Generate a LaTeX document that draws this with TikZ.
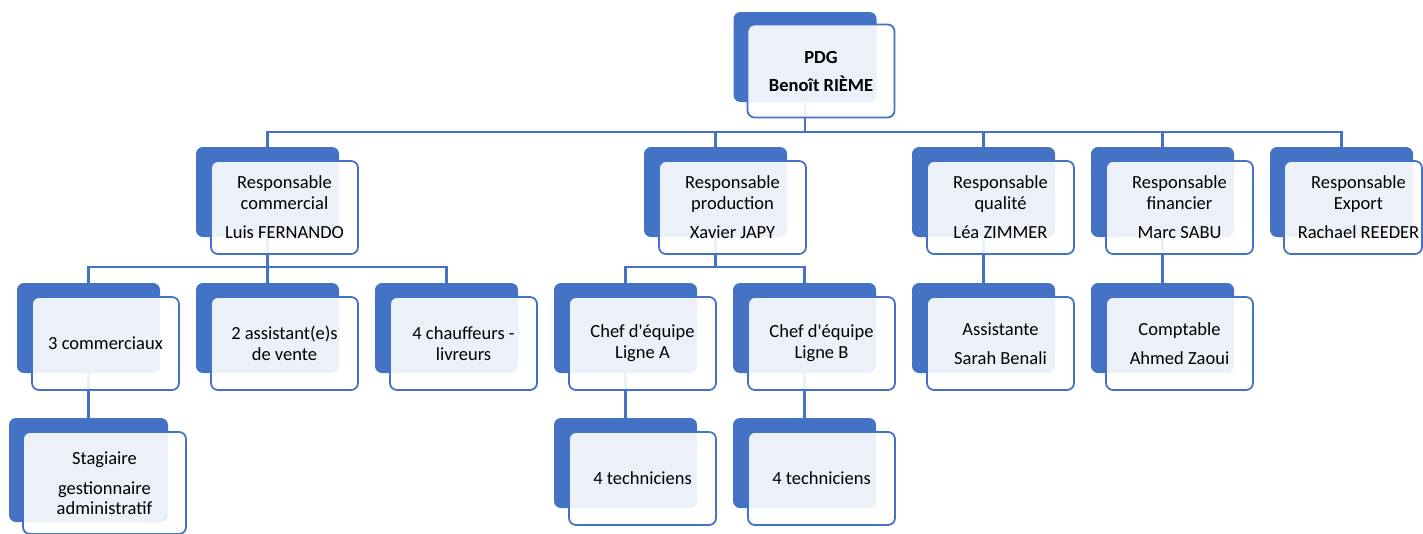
\documentclass[tikz,border=0pt]{standalone}
\usepackage{fontspec}
\setmainfont{Carlito}
\definecolor{dkblue}{HTML}{4472C4}
\pgfdeclarelayer{bg}
\pgfsetlayers{bg,main}
\tikzset{
  back/.style={fill=dkblue, rounded corners=7pt, minimum width=143pt, minimum height=90pt, inner sep=0pt, outer sep=0pt},
  front/.style={fill=white, fill opacity=0.9, text opacity=1, draw=dkblue, draw opacity=1, line width=1.8pt, rounded corners=7pt, minimum width=147pt, minimum height=93pt, inner sep=0pt, outer sep=0pt, align=center, font=\fontsize{18.5}{21}\selectfont},
  lbl/.style={align=center, inner sep=0pt, font=\fontsize{18.5}{21}\selectfont},
  conn/.style={draw=dkblue, line width=2.6pt},
}
\begin{document}
\begin{tikzpicture}[x=1pt,y=-1pt]
\useasboundingbox (0,0) rectangle (1423,533);
\clip (0,0) rectangle (1423,533);
% PDG
\node[back] (pdgb) at (805,57) {};
\node[front, font=\bfseries\fontsize{18.5}{21}\selectfont] (pdg) at (821,71) {PDG\\[7pt]Benoît RIÈME};
% level 1
\node[back] (comb) at (267.5,192) {};
\node[front] (com) at (284.5,207.5) {Responsable\\commercial\\[8pt]Luis FERNANDO};
\node[back] (prodb) at (715.5,192) {};
\node[front] (prod) at (732.5,207.5) {Responsable\\production\\[8pt]Xavier JAPY};
\node[back] (qualb) at (983.5,192) {};
\node[front] (qual) at (1000.5,207.5) {Responsable\\qualité\\[8pt]Léa ZIMMER};
\node[back] (finb) at (1162.5,192) {};
\node[front] (fin) at (1179.5,207.5) {Responsable\\financier\\[8pt]Marc SABU};
\node[back] (expb) at (1341.5,192) {};
\node[front, minimum width=138pt] (exp) at (1353,207.5) {};
\node[lbl] (expt) at (1358.5,207.5) {Responsable\\Export\\[8pt]Rachael REEDER};
% level 2
\node[back] (c3b) at (88.5,328) {};
\node[front] (c3) at (105.5,343.5) {3 commerciaux};
\node[back] (asvb) at (267.5,328) {};
\node[front] (asv) at (284.5,343.5) {2 assistant(e)s\\de vente};
\node[back] (chfb) at (446.5,328) {};
\node[front] (chf) at (463.5,343.5) {4 chauffeurs -\\livreurs};
\node[back] (chab) at (625.5,328) {};
\node[front] (cha) at (642.5,343.5) {Chef d\textquotesingle équipe\\Ligne A};
\node[back] (chbb) at (804.5,328) {};
\node[front] (chb) at (821.5,343.5) {Chef d\textquotesingle équipe\\Ligne B};
\node[back] (astb) at (983.5,328) {};
\node[front] (ast) at (1000.5,343.5) {Assistante\\[8pt]Sarah Benali};
\node[back] (cptb) at (1162.5,328) {};
\node[front] (cpt) at (1179.5,343.5) {Comptable\\[8pt]Ahmed Zaoui};
% level 3
\node[back, minimum width=159pt, minimum height=104pt] (stgb) at (88.5,470) {};
\node[front, minimum width=163pt, minimum height=102pt] (stg) at (104.5,483) {Stagiaire\\[9pt]gestionnaire\\[-1pt]administratif};
\node[back] (teab) at (625.5,463) {};
\node[front] (tea) at (642.5,478.5) {4 techniciens};
\node[back] (tebb) at (804.5,463) {};
\node[front] (teb) at (821.5,478.5) {4 techniciens};
% connectors
\coordinate (bus) at (0,132);
\coordinate (s1) at (0,267);
\begin{pgfonlayer}{bg}
\fill[white] (0,0) rectangle (1423,533);
\draw[conn] (pdgb.center) -- (pdgb.center |- bus);
\draw[conn] (comb.center) -- (comb.center |- bus) -- (expb.center |- bus) -- (expb.center);
\draw[conn] (prodb.center) -- (prodb.center |- bus);
\draw[conn] (qualb.center) -- (qualb.center |- bus);
\draw[conn] (finb.center) -- (finb.center |- bus);
\draw[conn] (comb.center) -- (comb.center |- s1);
\draw[conn] (c3b.center) -- (c3b.center |- s1) -- (chfb.center |- s1) -- (chfb.center);
\draw[conn] (asvb.center) -- (asvb.center |- s1);
\draw[conn] (prodb.center) -- (prodb.center |- s1);
\draw[conn] (chab.center) -- (chab.center |- s1) -- (chbb.center |- s1) -- (chbb.center);
\draw[conn] (qualb.center) -- (astb.center);
\draw[conn] (finb.center) -- (cptb.center);
\draw[conn] (c3b.center) -- (stgb.center);
\draw[conn] (chab.center) -- (teab.center);
\draw[conn] (chbb.center) -- (tebb.center);
\end{pgfonlayer}
\end{tikzpicture}
\end{document}
